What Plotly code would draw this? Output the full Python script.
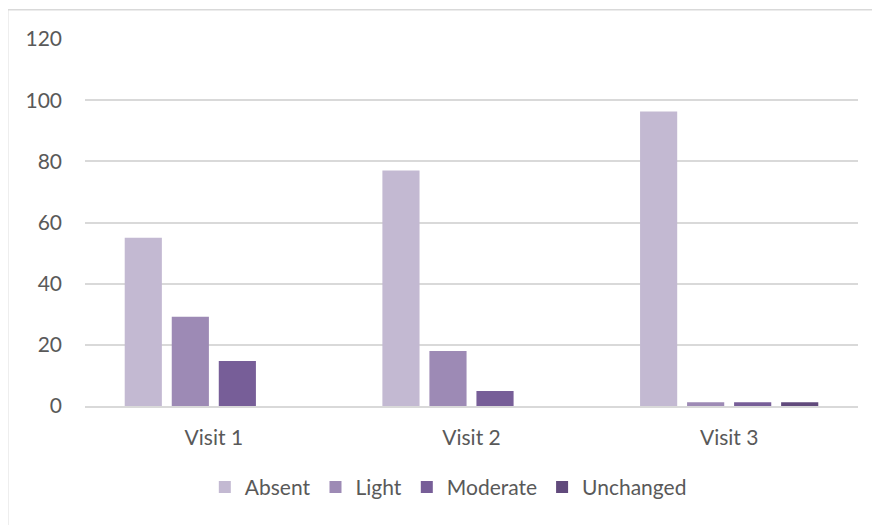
import plotly.graph_objects as go

visits = ["Visit 1", "Visit 2", "Visit 3"]
absent = [55, 77, 96.3]
light = [29.2, 18, 1.2]
moderate = [14.7, 4.9, 1.2]
unchanged = [0, 0, 1.2]

series = [
    ("Absent", absent, "#C3B9D2"),
    ("Light", light, "#9D8AB5"),
    ("Moderate", moderate, "#775E98"),
    ("Unchanged", unchanged, "#614A7C"),
]

fig = go.Figure()
for name, vals, color in series:
    fig.add_trace(go.Bar(x=visits, y=vals, name=name, marker=dict(color=color, line_width=0)))

# chart-area border (right/bottom fall outside the picture)
fig.add_shape(type="line", xref="paper", yref="paper", x0=-0.1, x1=1.2, y0=1.08, y1=1.08,
              line=dict(color="#D9D9D9", width=1.5))
fig.add_shape(type="line", xref="paper", yref="paper", x0=-0.1, x1=-0.1, y0=1.08, y1=-0.4,
              line=dict(color="#D9D9D9", width=1.5))

fig.update_layout(
    width=872, height=517,
    margin=dict(l=77, r=22, t=31, b=119),
    paper_bgcolor="white", plot_bgcolor="white",
    font=dict(family="Lato, Carlito, sans-serif", size=21, color="#595959"),
    barmode="group", bargap=0.27, bargroupgap=0.21,
    showlegend=True,
    legend=dict(orientation="h", x=0.47, xanchor="center", y=-0.166, yanchor="top",
                font=dict(size=21), itemwidth=30, traceorder="normal"),
    xaxis=dict(showgrid=False, showline=True, linecolor="#D9D9D9", linewidth=1.5,
               ticks="", tickfont=dict(size=21), ticklabelstandoff=12),
    yaxis=dict(range=[0, 120], dtick=20, showgrid=True, gridcolor="#D9D9D9", gridwidth=1.5,
               zeroline=False, showline=False, ticks="", ticklabelstandoff=22),
)

fig.write_html("out.html")
